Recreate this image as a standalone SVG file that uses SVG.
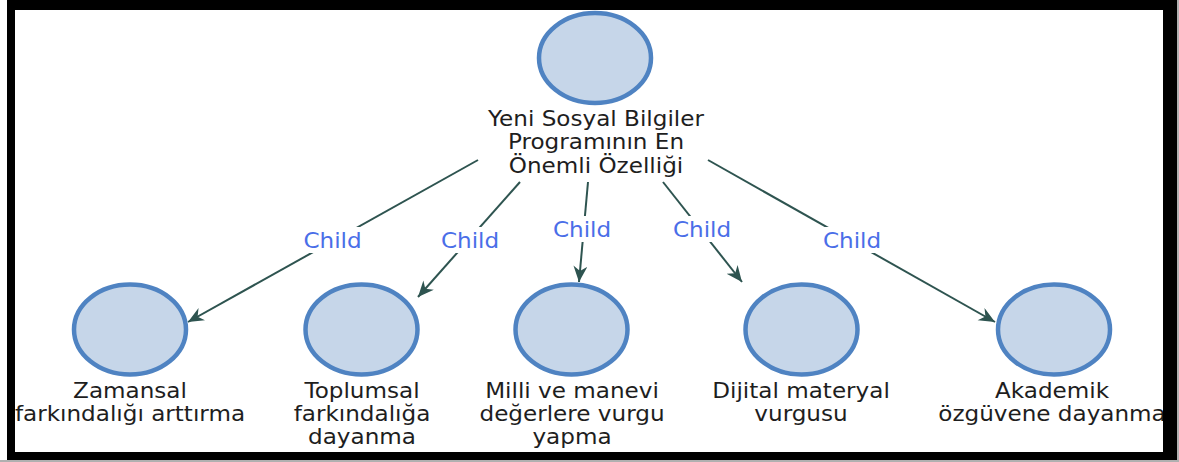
<svg xmlns="http://www.w3.org/2000/svg" width="1179" height="462" viewBox="0 0 1179 462">
<defs>
<style>
.node{fill:#c6d6e9;stroke:#4f83c2;stroke-width:4.5}
.lbl{font-family:"DejaVu Sans",Verdana,sans-serif;font-size:21px;fill:#1e1e1e;text-anchor:middle}
.child{font-family:"DejaVu Sans",Verdana,sans-serif;font-size:21px;fill:#4a6ee8;text-anchor:middle}
.edge{stroke:#2e5450;stroke-width:2;fill:none;marker-end:url(#arr)}
.bg{fill:#ffffff}
</style>
<marker id="arr" markerUnits="userSpaceOnUse" markerWidth="18" markerHeight="16" refX="16" refY="7" orient="auto">
<path d="M0,0 L16,7 L0,14 L5,7 Z" fill="#2e5450"/>
</marker>
</defs>
<rect x="0" y="0" width="1179" height="462" fill="#ffffff"/>

<g id="connectors">
<line class="edge" x1="478" y1="160" x2="188" y2="322"/>
<line class="edge" x1="520" y1="182" x2="418" y2="297"/>
<line class="edge" x1="588" y1="182" x2="579" y2="282"/>
<line class="edge" x1="663" y1="182" x2="742" y2="282"/>
<line class="edge" x1="708" y1="160" x2="995" y2="322"/>
<rect class="bg" x="300" y="227" width="65" height="26"/>
<rect class="bg" x="437" y="227" width="65" height="26"/>
<rect class="bg" x="549" y="216" width="65" height="26"/>
<rect class="bg" x="670" y="216" width="65" height="26"/>
<rect class="bg" x="819" y="227" width="65" height="26"/>
<g transform="translate(332.5,0) scale(1.1,1)"><text class="child" x="0" y="248">Child</text></g>
<g transform="translate(470,0) scale(1.1,1)"><text class="child" x="0" y="248">Child</text></g>
<g transform="translate(582,0) scale(1.1,1)"><text class="child" x="0" y="237">Child</text></g>
<g transform="translate(702,0) scale(1.1,1)"><text class="child" x="0" y="237">Child</text></g>
<g transform="translate(852,0) scale(1.1,1)"><text class="child" x="0" y="248">Child</text></g>
</g>

<g id="root">
<ellipse class="node" cx="595" cy="58" rx="56" ry="45"/>
<g transform="translate(596,0) scale(1.1,1)">
<text class="lbl" x="0" y="126">Yeni Sosyal Bilgiler</text>
<text class="lbl" x="0" y="149.5">Programının En</text>
<text class="lbl" x="0" y="173">Önemli Özelliği</text>
</g>
</g>

<g id="n1">
<ellipse class="node" cx="130" cy="329.5" rx="56" ry="45"/>
<g transform="translate(130,0) scale(1.1,1)">
<text class="lbl" x="0" y="398">Zamansal</text>
<text class="lbl" x="0" y="421">farkındalığı arttırma</text>
</g>
</g>

<g id="n2">
<ellipse class="node" cx="361.5" cy="329.5" rx="56" ry="45"/>
<g transform="translate(362,0) scale(1.1,1)">
<text class="lbl" x="0" y="398">Toplumsal</text>
<text class="lbl" x="0" y="421">farkındalığa</text>
<text class="lbl" x="0" y="444">dayanma</text>
</g>
</g>

<g id="n3">
<ellipse class="node" cx="571.5" cy="329.5" rx="56" ry="45"/>
<g transform="translate(572,0) scale(1.1,1)">
<text class="lbl" x="0" y="398">Milli ve manevi</text>
<text class="lbl" x="0" y="421">değerlere vurgu</text>
<text class="lbl" x="0" y="444">yapma</text>
</g>
</g>

<g id="n4">
<ellipse class="node" cx="801.5" cy="329.5" rx="56" ry="45"/>
<g transform="translate(801,0) scale(1.1,1)">
<text class="lbl" x="0" y="398">Dijital materyal</text>
<text class="lbl" x="0" y="421">vurgusu</text>
</g>
</g>

<g id="n5">
<ellipse class="node" cx="1054" cy="329.5" rx="56" ry="45"/>
<g transform="translate(1052,0) scale(1.1,1)">
<text class="lbl" x="0" y="398">Akademik</text>
<text class="lbl" x="0" y="421">özgüvene dayanma</text>
</g>
</g>

<g id="frame">
<path d="M0,0 H1179 V462 H0 Z M15,10 V452 H1163 V10 Z" fill="#000000" fill-rule="evenodd"/>
<rect x="0" y="0" width="7" height="462" fill="#ffffff"/>
<rect x="1177" y="0" width="2" height="462" fill="#b0b0b0"/>
<rect x="0" y="460" width="1179" height="2" fill="#b0b0b0"/>
</g>
</svg>
